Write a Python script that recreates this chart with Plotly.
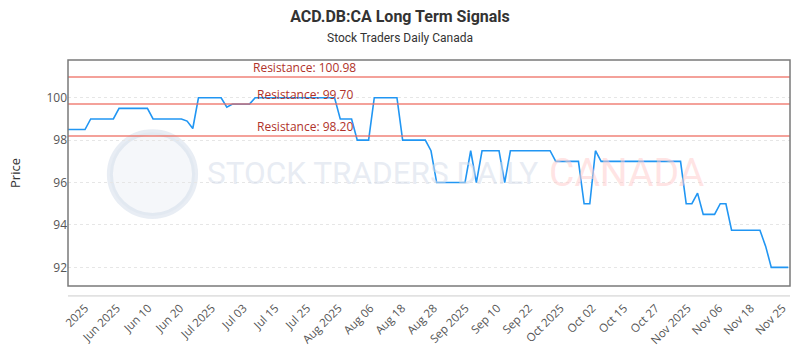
import plotly.graph_objects as go

# ---- data ----
prices = (
    [98.5] * 4 + [99.0] * 5 + [99.5] * 6 + [99.0] * 6 + [98.9, 98.55] +
    [100.0] * 5 + [99.55] + [99.7] * 4 + [100.0] * 15 + [99.0] * 3 +
    [98.0] * 3 + [100.0] * 5 + [98.0] * 5 + [97.5] + [96.0] * 6 +
    [97.5, 96.0] + [97.5] * 4 + [96.0] + [97.5] * 8 + [97.0] * 5 +
    [95.0] * 2 + [97.5] + [97.0] * 15 + [95.0] * 2 + [95.5] + [94.5] * 3 +
    [95.0] * 2 + [93.75] * 6 + [93.0] + [92.0] * 4
)
tick_labels = ["2025", "Jun 2025", "Jun 10", "Jun 20", "Jul 2025", "Jul 03", "Jul 15",
               "Jul 25", "Aug 2025", "Aug 06", "Aug 18", "Aug 28", "Sep 2025", "Sep 10",
               "Sep 22", "Oct 2025", "Oct 02", "Oct 15", "Oct 27", "Nov 2025", "Nov 06",
               "Nov 18", "Nov 25"]
resistance_levels = [100.98, 99.70, 98.20]

n = len(prices)
x_idx = list(range(n))
first_tick = 3.0
tick_step = (n - 1 - 1.0 - first_tick) / (len(tick_labels) - 1)
tick_vals = [first_tick + k * tick_step for k in range(len(tick_labels))]

fig = go.Figure()
fig.add_trace(go.Scatter(x=x_idx, y=prices, mode="lines",
                         line=dict(color="#2196f3", width=1.6),
                         hoverinfo="y", showlegend=False))

shapes = []
annotations = []
for lvl in resistance_levels:
    shapes.append(dict(type="line", xref="paper", x0=0, x1=1, yref="y", y0=lvl, y1=lvl,
                       line=dict(color="rgba(238,110,100,0.65)", width=2), layer="above"))
    annotations.append(dict(xref="paper", x=0.328, xanchor="center", yref="y", y=lvl,
                            yanchor="bottom", yshift=-1, text=f"Resistance: {lvl:.2f}",
                            showarrow=False,
                            font=dict(family="Open Sans", size=12, color="#b0322a")))

# plot frame
shapes.append(dict(type="rect", xref="paper", yref="paper", x0=0, x1=1, y0=0, y1=1,
                   line=dict(color="#7a7a7a", width=1.5), layer="above"))
# separate x axis baseline
shapes.append(dict(type="line", xref="paper", yref="paper", x0=0, x1=1, y0=-0.044, y1=-0.044,
                   line=dict(color="#cccccc", width=1)))
# watermark logo circle
shapes.append(dict(type="circle", xref="paper", yref="paper",
                   x0=0.058, x1=0.176, y0=0.31, y1=0.68,
                   line=dict(color="rgba(205,215,230,0.45)", width=6),
                   fillcolor="rgba(225,232,242,0.35)", layer="below"))

annotations += [
    dict(xref="paper", yref="paper", x=0.19, y=0.5, xanchor="left", yanchor="middle",
         text="STOCK TRADERS DAILY", showarrow=False,
         font=dict(family="Roboto", size=31.5, color="rgba(212,220,234,0.55)")),
    dict(xref="paper", yref="paper", x=0.663, y=0.5, xanchor="left", yanchor="middle",
         text="CANADA", showarrow=False,
         font=dict(family="Roboto", size=39, color="rgba(255,205,205,0.55)")),
    dict(xref="paper", yref="paper", x=(400 - 68) / 722, y=1, xanchor="center",
         yanchor="bottom", yshift=13,
         text="Stock Traders Daily Canada", showarrow=False,
         font=dict(family="Roboto", size=12, color="#333333")),
]

fig.update_layout(
    width=800, height=350,
    margin=dict(l=68, r=10, t=60, b=64),
    paper_bgcolor="white", plot_bgcolor="white",
    title=dict(text="<b>ACD.DB:CA Long Term Signals</b>", x=0.5, xanchor="center",
               y=0.952, yanchor="middle",
               font=dict(family="Roboto", size=16, color="#333333")),
    shapes=shapes, annotations=annotations,
    xaxis=dict(range=[0, n - 1 + 0.3], tickmode="array", tickvals=tick_vals,
               ticktext=tick_labels, tickangle=-45, showgrid=False, zeroline=False,
               showline=False, ticks="outside", ticklen=10, tickcolor="rgba(0,0,0,0)",
               automargin=False,
               tickfont=dict(family="Open Sans", size=11.5, color="#555555")),
    yaxis=dict(range=[91.12, 101.78], tickvals=[92, 94, 96, 98, 100],
               showgrid=True, gridcolor="#e6e6e6", griddash="dot", zeroline=False,
               showline=False, automargin=False,
               tickfont=dict(family="Open Sans", size=12, color="#555555"),
               title=dict(text="Price", font=dict(family="Open Sans", size=13, color="#333333"),
                          standoff=22)),
)

fig.write_html("out.html")
